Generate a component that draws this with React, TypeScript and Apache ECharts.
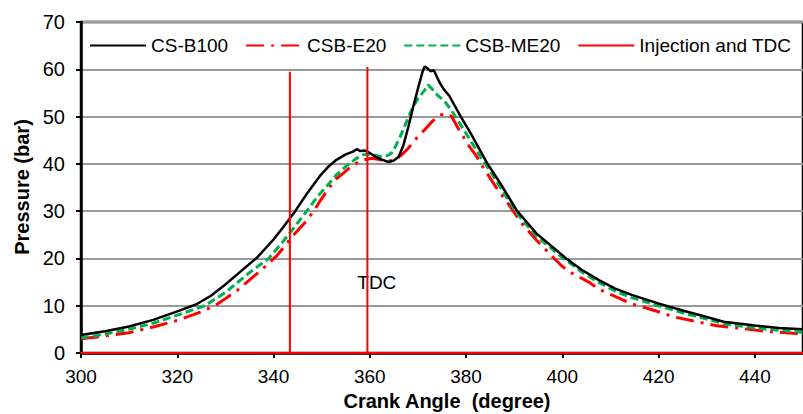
import React, { useEffect, useRef } from "react";
import * as echarts from "echarts";

const csB100: [number, number][] = [
  [300, 3.8], [305, 4.6], [310, 5.6], [315, 7.0], [320, 8.8], [324, 10.3], [327, 12.1], [330, 14.5],
  [333, 17.1], [336.6, 20.2], [340, 24.0], [342, 26.6], [344.5, 30.0], [347, 33.8], [349.6, 37.4],
  [351.5, 39.5], [353, 40.8], [355, 42.0], [356.5, 42.6], [357.3, 43.1], [358, 42.7], [359, 42.8],
  [360, 42.3], [361.2, 41.5], [362.5, 40.9], [363.9, 40.4], [365, 40.7], [366, 41.5], [367, 44.0],
  [368, 47.8], [369, 52.0], [370.1, 56.3], [371, 59.6], [371.4, 60.6], [372, 60.2], [372.6, 59.6],
  [373.3, 59.8], [374.5, 57.2], [375.5, 55.6], [376.5, 54.4], [378.9, 50.0], [381, 46.4], [384.4, 40.1],
  [387.1, 35.9], [390.5, 30.2], [394.6, 25.3], [400.8, 20.0], [404, 17.6], [407.6, 15.4], [411, 13.6],
  [414.4, 12.3], [419.9, 10.5], [425, 9.0], [430, 7.6], [433.5, 6.6], [440, 5.8], [445, 5.3], [450, 5.0],
];

const csbE20: [number, number][] = [
  [300, 3.0], [305, 3.6], [310, 4.3], [315, 5.5], [320, 6.9], [324.4, 8.5], [327.8, 10.0], [330, 11.5],
  [332.5, 13.3], [336, 16.3], [338.5, 18.5], [340.7, 20.6], [342.4, 22.7], [344.1, 24.9], [346.9, 28.0],
  [348.6, 30.4], [349.9, 32.5], [351.6, 35.0], [353, 36.8], [354.7, 38.2], [356.4, 39.7], [358.5, 40.8],
  [360.5, 41.2], [362.5, 40.8], [364, 40.6], [365.3, 40.9], [366.5, 41.8], [368, 43.3], [369.7, 45.4],
  [371.4, 47.2], [373, 49.0], [374.5, 50.3], [376, 50.6], [377, 50.0], [378.2, 47.8], [380.6, 43.8],
  [382.3, 41.4], [383.4, 39.5], [386.2, 35.1], [388.8, 31.5], [391.5, 27.5], [394.6, 23.9], [398, 20.3],
  [399.7, 18.6], [401.4, 17.2], [405.5, 15.0], [407.6, 13.5], [410, 12.4], [414.4, 10.4], [418.8, 9.1],
  [423.3, 7.6], [428, 6.6], [432.5, 5.7], [437.2, 5.2], [442, 4.6], [447.8, 4.2], [450, 4.1],
];

const csbME20: [number, number][] = [
  [300, 3.2], [305, 4.0], [310, 5.0], [315, 6.3], [320, 8.0], [325.7, 10.0], [330, 12.8], [335, 17.0],
  [339, 20.0], [342, 23.6], [344, 26.2], [346.9, 30.0], [349, 32.9], [351.6, 35.9], [353, 37.6],
  [355, 39.4], [357, 41.0], [358.5, 41.9], [360, 42.1], [361.5, 41.7], [362.6, 41.5], [363.8, 41.8],
  [364.6, 42.4], [365.5, 44.0], [366.3, 45.7], [367.5, 48.6], [368.7, 51.4], [370, 53.8], [371.4, 55.6],
  [372.1, 56.7], [373, 55.8], [374.1, 54.5], [375.5, 53.3], [376.9, 51.4], [379.6, 47.1], [383, 41.5],
  [384.4, 39.4], [387, 35.2], [390.5, 29.6], [394.6, 24.7], [400, 20.2], [404, 17.2], [407.6, 14.9],
  [411, 13.1], [414.4, 11.7], [420, 10.0], [425, 8.5], [430, 7.2], [433.5, 6.2], [440, 5.3], [445, 4.8],
  [450, 4.4],
];

const injectionAngle = 343.4;
const tdcAngle = 359.5;
const injectionAndTdc: [number, number][] = [
  [300, 0], [injectionAngle, 0], [injectionAngle, 59.5], [injectionAngle, 0],
  [tdcAngle, 0], [tdcAngle, 60.5], [tdcAngle, 0], [450, 0],
];

const tdcLabel = { text: "TDC", at: [357.4, 15.0] as [number, number] };

const FONT = "Liberation Sans";

export default function App() {
  const ref = useRef<HTMLDivElement>(null);
  useEffect(() => {
    if (!ref.current) return;
    const chart = echarts.init(ref.current, null, { renderer: "svg" });
    const curve = { showSymbol: false, symbol: "none" };
    chart.setOption({
      animation: false,
      backgroundColor: "#ffffff",
      textStyle: { fontFamily: FONT },
      grid: {
        left: 81, top: 22, width: 733, height: 331,
        show: true, borderColor: "#000", borderWidth: 2.5, backgroundColor: "transparent",
      },
      legend: {
        left: 89, top: 36, padding: 0, itemWidth: 56, itemHeight: 14, itemGap: 17,
        itemStyle: { opacity: 0 },
        textStyle: { fontSize: 19, color: "#000", fontFamily: FONT },
        data: ["CS-B100", "CSB-E20", "CSB-ME20", "Injection and TDC"],
      },
      xAxis: {
        type: "value", min: 300, max: 450, interval: 20,
        axisLine: { show: true, lineStyle: { color: "#000", width: 2.5 } },
        axisTick: { show: true, length: 5, lineStyle: { color: "#000", width: 2 } },
        axisLabel: {
          fontSize: 19, color: "#000", margin: 14, fontFamily: FONT, showMaxLabel: false,
          formatter: (v: number) => (v % 20 === 0 ? String(v) : ""),
        },
        splitLine: { show: false },
      },
      yAxis: {
        type: "value", min: 0, max: 70, interval: 10,
        axisLine: { show: true, lineStyle: { color: "#000", width: 2.5 } },
        axisTick: { show: true, length: 5, lineStyle: { color: "#000", width: 2 } },
        axisLabel: { fontSize: 20, color: "#000", margin: 16, fontFamily: FONT },
        splitLine: { show: true, lineStyle: { color: "#999999", width: 2 } },
      },
      series: [
        {
          name: "CS-B100", type: "line", data: csB100, ...curve,
          lineStyle: { color: "#000", width: 2.5 }, itemStyle: { color: "#000" }, z: 5,
        },
        {
          name: "CSB-E20", type: "line", data: csbE20, ...curve,
          lineStyle: { color: "#ff0000", width: 3, type: [18, 7, 3, 7] }, itemStyle: { color: "#ff0000" }, z: 3,
        },
        {
          name: "CSB-ME20", type: "line", data: csbME20, ...curve,
          lineStyle: { color: "#00b050", width: 3, type: [8, 4] }, itemStyle: { color: "#00b050" }, z: 4,
        },
        {
          name: "Injection and TDC", type: "line", data: injectionAndTdc, ...curve,
          lineStyle: { color: "#ff0000", width: 2 }, itemStyle: { color: "#ff0000" }, z: 6,
        },
      ],
      graphic: [
        {
          type: "text", x: 22, y: 187, rotation: Math.PI / 2,
          style: {
            text: "Pressure (bar)", fontSize: 20, fontWeight: "bold", fontFamily: FONT, fill: "#000",
            align: "center", verticalAlign: "middle",
          },
        },
        {
          type: "text", x: 447, y: 401,
          style: {
            text: "Crank Angle  (degree)", fontSize: 20, fontWeight: "bold", fontFamily: FONT, fill: "#000",
            align: "center", verticalAlign: "middle",
          },
        },
      ],
    });
    const p = chart.convertToPixel({ gridIndex: 0 }, tdcLabel.at) as number[];
    chart.setOption({
      graphic: [
        {}, {},
        {
          type: "text", x: p[0], y: p[1],
          style: {
            text: tdcLabel.text, fontSize: 19, fontFamily: FONT, fill: "#000",
            align: "left", verticalAlign: "middle",
          },
        },
      ],
    });
    return () => chart.dispose();
  }, []);
  return (
    <div
      ref={ref}
      style={{ position: "fixed", left: 0, top: 0, width: 803, height: 414, overflow: "hidden" }}
    />
  );
}
